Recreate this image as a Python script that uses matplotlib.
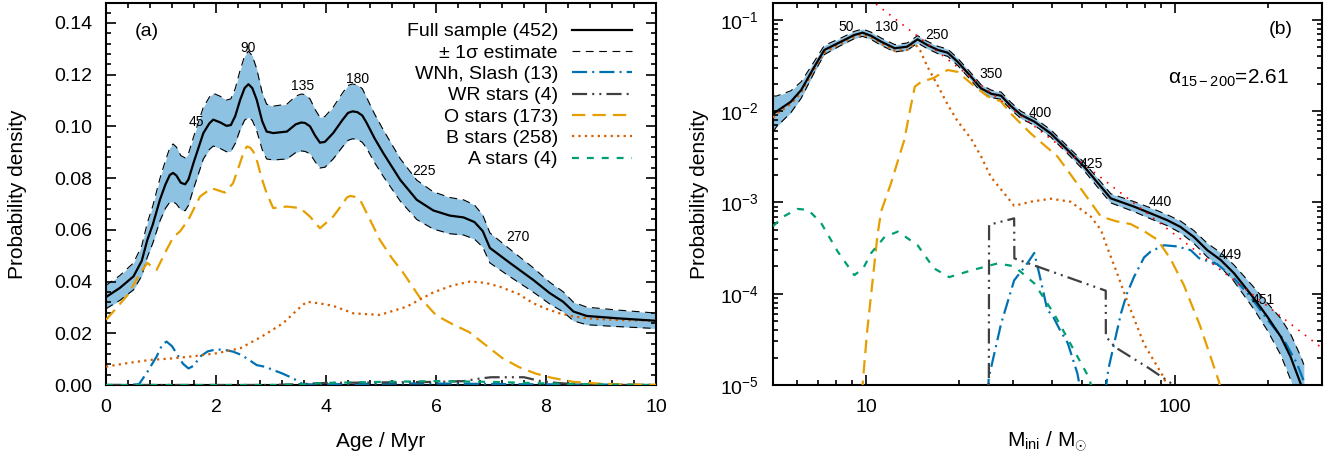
import numpy as np
import matplotlib
matplotlib.use('Agg')
import matplotlib.pyplot as plt
from matplotlib import ticker

plt.rcParams['font.family'] = ['Liberation Sans', 'DejaVu Sans']
plt.rcParams['mathtext.fontset'] = 'custom'
plt.rcParams['mathtext.rm'] = 'Liberation Sans'
plt.rcParams['mathtext.it'] = 'Liberation Sans:italic'

# ---------------- panel (a): age distribution ----------------
age_full = [0, 0.25, 0.5, 0.65, 0.75, 0.85, 0.98, 1.08, 1.16, 1.22, 1.28, 1.36, 1.44, 1.5, 1.59,
            1.77, 1.88, 1.95, 2.08, 2.19, 2.27, 2.35, 2.44, 2.52, 2.59, 2.66, 2.74, 2.84, 2.92, 3.04,
            3.29, 3.45, 3.55, 3.62, 3.71, 3.8, 3.89, 3.98, 4.13, 4.3, 4.4, 4.48, 4.57, 4.66, 4.74,
            4.88, 5.04, 5.35, 5.65, 5.95, 6.25, 6.5, 6.7, 6.85, 6.98, 7.35, 7.77, 8.07, 8.31, 8.5,
            8.74, 9.29, 9.95, 10]
pdf_full = [0.034, 0.0375, 0.042, 0.048, 0.056, 0.062, 0.0716, 0.0775, 0.0812, 0.082, 0.081, 0.0782,
            0.0776, 0.0795, 0.0858, 0.0974, 0.1012, 0.1026, 0.1015, 0.1002, 0.1005, 0.104, 0.1103,
            0.1148, 0.1163, 0.1148, 0.1103, 0.102, 0.098, 0.0974, 0.098, 0.1008, 0.1015, 0.1013, 0.1,
            0.0965, 0.0937, 0.094, 0.0974, 0.1025, 0.1052, 0.1058, 0.1055, 0.1042, 0.1013, 0.0955,
            0.0897, 0.0793, 0.0716, 0.0675, 0.0655, 0.0648, 0.063, 0.0595, 0.053, 0.0471, 0.0406,
            0.0355, 0.0322, 0.0284, 0.0267, 0.0258, 0.0249, 0.0248]
sig_full = [0.0045, 0.0048, 0.0052, 0.0058, 0.0066, 0.0072, 0.0082, 0.0092, 0.0105, 0.0112, 0.011,
            0.0105, 0.0102, 0.0100, 0.0100, 0.0100, 0.0101, 0.0102, 0.0101, 0.0100, 0.0101, 0.0106,
            0.0115, 0.0124, 0.0128, 0.0125, 0.0120, 0.0110, 0.0106, 0.0104, 0.0106, 0.0109, 0.0110,
            0.0110, 0.0106, 0.0101, 0.0098, 0.0098, 0.0100, 0.0104, 0.0106, 0.0106, 0.0105, 0.0104,
            0.0098, 0.0094, 0.0090, 0.0082, 0.0076, 0.0072, 0.0070, 0.0068, 0.0066, 0.0062, 0.0058,
            0.0053, 0.0047, 0.0042, 0.0039, 0.0036, 0.0034, 0.0032, 0.0030, 0.0030]

age_wnh = [0, 0.4, 0.6, 0.75, 0.92, 1.02, 1.1, 1.2, 1.28, 1.4, 1.5, 1.6, 1.71, 1.85, 2.01, 2.2, 2.31,
           2.44, 2.56, 2.74, 2.9, 3.04, 3.2, 3.4, 3.58, 3.8, 4.5, 5.5, 6.5, 7.5, 8.5, 9.5, 10]
pdf_wnh = [0, 0, 0.0003, 0.005, 0.011, 0.0155, 0.0168, 0.015, 0.0123, 0.0082, 0.0064, 0.0075, 0.011,
           0.013, 0.0138, 0.0134, 0.0129, 0.0118, 0.0103, 0.0077, 0.007, 0.0058, 0.0045, 0.0026,
           0.0003, 0.0002, 0.0004, 0.0006, 0.0005, 0.0003, 0.0002, 0.0001, 0.0]

age_wr = [0, 3.0, 3.5, 4.0, 5.0, 6.0, 6.5, 6.8, 7.0, 7.6, 7.9, 8.2, 8.6, 9.0, 10]
pdf_wr = [0, 0, 0.0003, 0.0008, 0.001, 0.0012, 0.0015, 0.0025, 0.003, 0.003, 0.0015, 0.0008, 0.0002, 0, 0]

age_o = [0, 0.2, 0.4, 0.6, 0.75, 0.92, 1.1, 1.22, 1.35, 1.5, 1.71, 1.92, 2.16, 2.31, 2.44, 2.5, 2.56,
         2.62, 2.68, 2.74, 2.83, 2.92, 3.04, 3.29, 3.53, 3.71, 3.89, 4.13, 4.3, 4.38, 4.44, 4.52,
         4.62, 4.8, 4.98, 5.2, 5.4, 5.7, 6.0, 6.3, 6.6, 6.9, 7.2, 7.5, 7.8, 8.1, 8.5, 9.0, 9.5, 10]
pdf_o = [0.0252, 0.030, 0.035, 0.0425, 0.0472, 0.0445, 0.0522, 0.057, 0.0595, 0.064, 0.0729, 0.0761,
         0.0744, 0.078, 0.086, 0.0898, 0.0922, 0.0918, 0.0902, 0.0871, 0.080, 0.0742, 0.0684, 0.069,
         0.0684, 0.0651, 0.0606, 0.0651, 0.070, 0.0725, 0.0731, 0.0728, 0.0716, 0.0639, 0.0561,
         0.049, 0.0435, 0.034, 0.027, 0.0235, 0.0205, 0.0155, 0.0105, 0.007, 0.0045, 0.0028, 0.0012,
         0.0005, 0.0002, 0.0001]

age_b = [0, 0.4, 0.8, 1.22, 1.62, 2.02, 2.44, 2.83, 3.22, 3.5, 3.65, 3.9, 4.13, 4.5, 4.98, 5.47, 5.95,
         6.3, 6.62, 6.9, 7.16, 7.5, 7.77, 8.0, 8.25, 8.5, 8.74, 9.0, 9.5, 9.95, 10]
pdf_b = [0.0071, 0.0085, 0.0097, 0.0103, 0.0112, 0.0123, 0.0142, 0.0187, 0.0239, 0.0295, 0.0322,
         0.0315, 0.0306, 0.0277, 0.0271, 0.0303, 0.0358, 0.0385, 0.040, 0.0395, 0.038, 0.0352,
         0.0316, 0.0295, 0.0277, 0.0265, 0.0258, 0.0254, 0.025, 0.0249, 0.0248]

age_a = [0, 3.0, 3.5, 4, 5, 6, 7, 8, 9, 10]
pdf_a = [0, 0, 0.0002, 0.0008, 0.0012, 0.0015, 0.0012, 0.0006, 0.0002, 0.0]

age_notes = ['45', '90', '135', '180', '225', '270']
age_note_x = [1.64, 2.58, 3.58, 4.58, 5.78, 7.49]
age_note_y = [0.1018, 0.1304, 0.1157, 0.1184, 0.0829, 0.0573]

# ---------------- panel (b): initial mass distribution ----------------
m_full = [5.0, 5.12, 5.71, 6.17, 6.81, 7.33, 8.3, 9.17, 9.75, 10.4, 11.2, 12.4, 13.6, 14.7, 15.8,
          17.1, 18.4, 19.8, 21.9, 23.6, 25.5, 27.4, 29.4, 31.8, 35.1, 39.7, 45, 50.9, 57.7, 62.1,
          73.9, 83.6, 94.6, 104.4, 115.3, 127.6, 141, 155.6, 171.9, 180.6, 199.6, 220.4, 237.3,
          255.7, 262]
pm_full = [0.0093, 0.0099, 0.0127, 0.0171, 0.0308, 0.0469, 0.0578, 0.0685, 0.0726, 0.067, 0.0578,
           0.049, 0.051, 0.0614, 0.0532, 0.0469, 0.0438, 0.0349, 0.0239, 0.0178, 0.0155, 0.0148,
           0.0115, 0.0091, 0.0077, 0.0057, 0.00376, 0.00247, 0.00149, 0.00111, 0.0009, 0.00076,
           0.00064, 0.00054, 0.00042, 0.0003, 0.000234, 0.000168, 0.00011, 8.9e-5, 5.6e-5, 3.4e-5,
           2.04e-5, 1.04e-5, 8e-6]
dex_full = [0.2, 0.17, 0.12, 0.09, 0.06, 0.05, 0.04, 0.04, 0.04, 0.04, 0.04, 0.04, 0.04, 0.04, 0.04,
            0.04, 0.04, 0.04, 0.04, 0.04, 0.04, 0.04, 0.04, 0.04, 0.04, 0.04, 0.04, 0.045, 0.05, 0.05,
            0.055, 0.06, 0.06, 0.065, 0.07, 0.075, 0.08, 0.09, 0.11, 0.12, 0.15, 0.2, 0.25, 0.3, 0.32]

m_wnh = [24.8, 25.0, 27.4, 30.2, 33.3, 35.1, 36.5, 38.7, 40.2, 42.5, 45, 48.4, 49.8, np.nan,
         59.5, 61, 67, 70, 73.9, 79.6, 83.6, 92.3, 101.9, 112.7, 120, 137.5, 155, 176, 199.6, 226,
         248.7, 262, 266]
pm_wnh = [8e-6, 1.2e-5, 4.7e-5, 1.4e-4, 2.15e-4, 2.8e-4, 1.6e-4, 6.6e-5, 5.8e-5, 4e-5, 2.9e-5,
          1.34e-5, 8e-6, np.nan, 8e-6, 1.5e-5, 6.1e-5, 1e-4, 1.54e-4, 2.5e-4, 2.9e-4, 3.4e-4, 3.3e-4,
          3e-4, 2.45e-4, 2.1e-4, 1.5e-4, 9.3e-5, 5.2e-5, 3.1e-5, 1.73e-5, 1.1e-5, 8e-6]

m_wr = [25.0, 25.05, 30.2, 30.25, 59.8, 59.85, 64.1, 82.7, 99.3, 103]
pm_wr = [5e-6, 5.7e-4, 6.7e-4, 2.44e-4, 1.08e-4, 3.4e-5, 2.6e-5, 1.52e-5, 1e-5, 8e-6]

m_o = [9.7, 9.85, 10.1, 10.4, 10.9, 11.2, 12.05, 13.3, 14.0, 14.4, 15.1, 15.8, 16.6, 17.5, 18.4, 19.8,
       21.9, 24.8, 27.4, 29.4, 34.2, 41.7, 48.4, 57.7, 65, 72, 80, 88, 97, 107, 121, 139, 142]
pm_o = [8e-6, 1.5e-5, 4e-5, 1e-4, 4.4e-4, 8e-4, 1.62e-3, 4.8e-3, 0.0117, 0.0186, 0.021, 0.022, 0.0232,
        0.026, 0.0283, 0.027, 0.0202, 0.0145, 0.0128, 0.0095, 0.0057, 0.0032, 0.0016, 7e-4, 6.2e-4,
        5.8e-4, 4.8e-4, 3.9e-4, 2.4e-4, 1.25e-4, 4.4e-5, 1.1e-5, 8e-6]

m_b = [5.0, 5.12, 5.71, 6.17, 6.81, 7.33, 8.3, 9.17, 9.75, 10.4, 11.2, 12.4, 13.6, 14.4, 15.0, 15.8,
       17.1, 18.4, 19.8, 21.9, 23.6, 25.4, 28.1, 30.2, 34.2, 39.7, 46, 53.5, 57.7, 60.5, 65, 70,
       79.6, 92.3, 96]
pm_b = [0.0085, 0.0093, 0.012, 0.016, 0.029, 0.044, 0.055, 0.065, 0.069, 0.064, 0.055, 0.046, 0.047,
        0.055, 0.046, 0.031, 0.019, 0.0118, 0.0078, 0.005, 0.0032, 0.0019, 0.00125, 0.00092,
        0.00102, 0.0011, 0.00102, 0.0007, 0.0005, 0.00032, 0.00017, 8.5e-5, 2.8e-5, 1.2e-5, 8e-6]

m_a = [5.0, 5.4, 6.0, 6.5, 7.15, 8.1, 9.17, 9.8, 10.4, 11.5, 12.7, 14.7, 16.6, 18.6, 21.9, 26.7, 30.2,
       35.1, 40.7, 47.2, 52.8, 54.5]
pm_a = [5.5e-4, 7e-4, 8.5e-4, 8.3e-4, 6e-4, 2.9e-4, 1.6e-4, 1.9e-4, 2.8e-4, 4.2e-4, 4.8e-4, 3.4e-4,
        1.9e-4, 1.52e-4, 1.8e-4, 2.15e-4, 2e-4, 1.3e-4, 6e-5, 2.4e-5, 1.2e-5, 8e-6]

alpha_fit = 2.61       # slope of power law, 15-200 Msun
norm_fit = 74.0        # normalisation of power law
m_fit = [9.0, 300.0]

mass_notes = ['50', '130', '250', '350', '400', '425', '440', '449', '451']
mass_note_x = [8.62, 11.7, 16.98, 25.4, 36.8, 53.5, 90.1, 151.8, 194]
mass_note_y = [0.0838, 0.0838, 0.0686, 0.0256, 0.00957, 0.00264, 0.00101, 0.000266, 8.55e-5]

# styles
band_col = '#8ec2e2'
c_wnh, c_wr, c_o, c_b, c_a = '#0072B2', '#404040', '#E69F00', '#D55E00', '#009E73'
ls_sig = (0, (7, 5))
ls_wnh = (0, (6.8, 2.3, 0.9, 2.3))
ls_wr = (0, (6.8, 2.3, 0.9, 2.3, 0.9, 2.3))
ls_o = (0, (6, 3.2))
ls_b = (0, (1, 1.9))
ls_a = (0, (3.1, 3.6))
lw = 1.6

fig = plt.figure(figsize=(13.41, 4.63), dpi=100)
axa = fig.add_axes([106 / 1341, 1 - 385 / 463, 550 / 1341, 382 / 463])
axb = fig.add_axes([773 / 1341, 1 - 385 / 463, 549 / 1341, 382 / 463])

# ---- (a)
af = np.array(age_full)
pf = np.array(pdf_full)
sf = np.array(sig_full)
axa.fill_between(af, pf - sf, pf + sf, color=band_col, lw=0, zorder=1)
axa.plot(af, pf + sf, color='k', lw=0.8, ls=ls_sig, zorder=2)
axa.plot(af, pf - sf, color='k', lw=0.8, ls=ls_sig, zorder=2)
h_wnh, = axa.plot(age_wnh, pdf_wnh, color=c_wnh, lw=lw, ls=ls_wnh, zorder=3)
h_wr, = axa.plot(age_wr, pdf_wr, color=c_wr, lw=lw, ls=ls_wr, zorder=3)
h_o, = axa.plot(age_o, pdf_o, color=c_o, lw=lw, ls=ls_o, zorder=3)
h_b, = axa.plot(age_b, pdf_b, color=c_b, lw=lw, ls=ls_b, zorder=3)
h_a, = axa.plot(age_a, pdf_a, color=c_a, lw=lw, ls=ls_a, zorder=3)
h_full, = axa.plot(af, pf, color='k', lw=lw, zorder=4)
h_sig, = axa.plot([], [], color='k', lw=0.8, ls=ls_sig)

for t, x, y in zip(age_notes, age_note_x, age_note_y):
    axa.text(x, y, t, fontsize=10, ha='center', va='center', zorder=5)
axa.text(0.74, 0.1367, '(a)', fontsize=14, ha='center', va='center')

axa.set_xlim(0, 10)
axa.set_ylim(0, 0.1477)
axa.xaxis.set_major_locator(ticker.MultipleLocator(2))
axa.xaxis.set_minor_locator(ticker.MultipleLocator(0.4))
axa.yaxis.set_major_locator(ticker.MultipleLocator(0.02))
axa.yaxis.set_minor_locator(ticker.MultipleLocator(0.004))
axa.yaxis.set_major_formatter(ticker.FormatStrFormatter('%.2f'))
axa.set_xlabel('Age / Myr', fontsize=15)
axa.set_ylabel('Probability density', fontsize=15)
axa.xaxis.set_label_coords(0.5, -0.123)
axa.yaxis.set_label_coords(-0.1436, 0.5)

leg = axa.legend([h_full, h_sig, h_wnh, h_wr, h_o, h_b, h_a],
                 ['Full sample (452)', '± 1σ estimate', 'WNh, Slash (13)', 'WR stars (4)',
                  'O stars (173)', 'B stars (258)', 'A stars (4)'],
                 loc='upper right', bbox_to_anchor=(0.956, 0.948), frameon=False,
                 markerfirst=False, fontsize=14, handlelength=3.1, handletextpad=0.7,
                 labelspacing=0.19, borderpad=0, borderaxespad=0)
for txt in leg.get_texts():
    txt.set_ha('right')

# ---- (b)
mf = np.array(m_full)
pmf = np.array(pm_full)
df = np.array(dex_full)
axb.fill_between(mf, pmf / 10 ** df, pmf * 10 ** df, color=band_col, lw=0, zorder=1)
axb.plot(mf, pmf * 10 ** df, color='k', lw=0.8, ls=ls_sig, zorder=2)
axb.plot(mf, pmf / 10 ** df, color='k', lw=0.8, ls=ls_sig, zorder=2)
axb.plot(m_wnh, pm_wnh, color=c_wnh, lw=lw, ls=ls_wnh, zorder=3)
axb.plot(m_wr, pm_wr, color=c_wr, lw=lw, ls=ls_wr, zorder=3)
axb.plot(m_o, pm_o, color=c_o, lw=lw, ls=ls_o, zorder=3)
axb.plot(m_b, pm_b, color=c_b, lw=lw, ls=ls_b, zorder=3)
axb.plot(m_a, pm_a, color=c_a, lw=lw, ls=ls_a, zorder=3)
axb.plot(mf, pmf, color='k', lw=lw, zorder=4)
mfit = np.array(m_fit)
axb.plot(mfit, norm_fit * mfit ** -alpha_fit, color='red', lw=1.2, ls=(0, (1, 4)), zorder=5)

for t, x, y in zip(mass_notes, mass_note_x, mass_note_y):
    axb.text(x, y, t, fontsize=10, ha='center', va='center', zorder=6)
axb.text(220, 0.0777, '(b)', fontsize=14, ha='center', va='center')
axb.text(95, 0.0231, 'α$_{\\rm 15\u2212200}$=2.61', fontsize=15, ha='left', va='center')

axb.set_xscale('log')
axb.set_yscale('log')
axb.set_xlim(5, 300)
axb.set_ylim(1e-5, 0.1535)
axb.set_xticks([10, 100])
axb.set_xticklabels(['10', '100'])
axb.xaxis.set_minor_locator(ticker.LogLocator(base=10, subs=np.arange(2, 10)))
axb.xaxis.set_minor_formatter(ticker.NullFormatter())
axb.yaxis.set_major_locator(ticker.LogLocator(base=10, numticks=10))
axb.yaxis.set_minor_locator(ticker.LogLocator(base=10, subs=np.arange(2, 10), numticks=20))
axb.yaxis.set_minor_formatter(ticker.NullFormatter())
axb.set_xlabel(r'M$_{\rm ini}$ / M$_{\odot}$', fontsize=15)
axb.set_ylabel('Probability density', fontsize=15)
axb.xaxis.set_label_coords(0.5, -0.118)
axb.yaxis.set_label_coords(-0.1166, 0.5)

for ax in (axa, axb):
    ax.tick_params(which='both', direction='in', top=True, right=True, labelsize=14, pad=10)
    ax.tick_params(which='major', length=7, width=1.2)
    ax.tick_params(which='minor', length=3.5, width=1.2)
    for sp in ax.spines.values():
        sp.set_linewidth(1.5)

fig.savefig('out.png', dpi=100)
